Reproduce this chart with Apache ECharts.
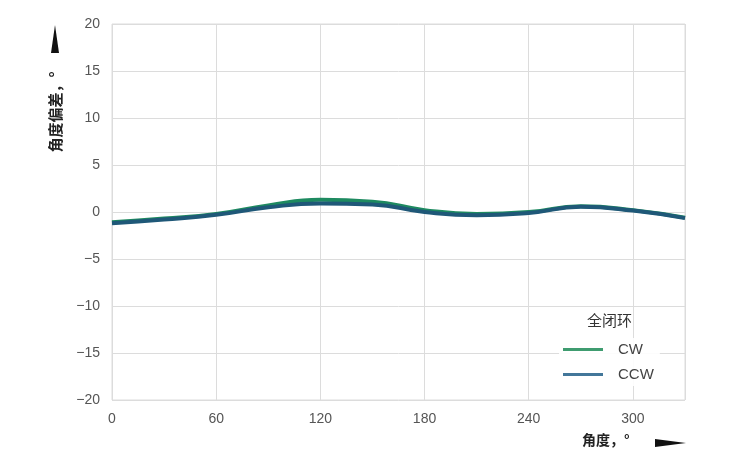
<!DOCTYPE html>
<html><head><meta charset="utf-8">
<script src="https://cdn.jsdelivr.net/npm/echarts@6/dist/echarts.min.js"></script>
<style>html,body{margin:0;padding:0;background:#fff}#c{width:732px;height:474px}</style>
</head><body><div id="c"></div>
<script>
const angles = [0, 30, 60, 90, 120, 150, 180, 210, 240, 270, 300, 330];
const cw  = [-1.1, -0.7, -0.2, 0.7, 1.3, 1.1, 0.2, -0.2, 0.0, 0.6, 0.2, -0.6];
const ccw = [-1.2, -0.8, -0.3, 0.5, 0.9, 0.8, 0.0, -0.35, -0.1, 0.55, 0.15, -0.65];
const seriesNames = ['CW', 'CCW'];
const legendTitle = '全闭环';
const xName = '角度，°';
const yName = '角度偏差，°';

const chart = echarts.init(document.getElementById('c'));
const font = 'Liberation Sans, Arial, sans-serif';
const fmt = v => String(v).replace('-', '\u2212');
chart.setOption({
  animation: false,
  grid: {left: 112, right: 47, top: 24, bottom: 74, show: true, borderColor: '#dcdcdc', borderWidth: 1, containLabel: false},
  xAxis: {type: 'value', min: 0, max: 330, interval: 60,
    axisLine: {show: false}, axisTick: {show: false},
    axisLabel: {color: '#555', fontSize: 14, fontFamily: font, margin: 12, showMaxLabel: false, formatter: fmt},
    splitLine: {lineStyle: {color: '#dcdcdc'}}},
  yAxis: {type: 'value', min: -20, max: 20, interval: 5,
    axisLine: {show: false}, axisTick: {show: false},
    axisLabel: {color: '#555', fontSize: 14, fontFamily: font, margin: 12, formatter: fmt},
    splitLine: {lineStyle: {color: '#dcdcdc'}}},
  legend: {left: 559, top: 338, orient: 'vertical', itemWidth: 40, itemHeight: 3, itemGap: 10,
    icon: 'rect', textStyle: {fontSize: 15, color: '#444', fontFamily: font, padding: [0, 0, 0, 10]},
    backgroundColor: 'rgba(255,255,255,0.9)', padding: [4, 6, 4, 4]},
  series: [
    {name: seriesNames[0], type: 'line', smooth: true, showSymbol: false,
     data: angles.map((a, i) => [a, cw[i]]), lineStyle: {width: 4, color: '#1e8a60'}, itemStyle: {color: '#3f9c70'}},
    {name: seriesNames[1], type: 'line', smooth: true, showSymbol: false,
     data: angles.map((a, i) => [a, ccw[i]]), lineStyle: {width: 4, color: '#1f5878'}, itemStyle: {color: '#43779a'}}
  ],
  graphic: [
    {type: 'text', left: 587, top: 313, style: {text: legendTitle, fontSize: 15, fill: '#333', fontFamily: 'Noto Sans CJK SC'}},
    {type: 'text', left: 582, top: 433, style: {text: xName, fontSize: 14, fontWeight: 'bold', fill: '#222', fontFamily: 'Noto Sans CJK SC'}},
    {type: 'polygon', shape: {points: [[655, 439], [686, 443], [655, 447]]}, style: {fill: '#111'}},
    {type: 'text', x: 55, y: 112, rotation: Math.PI / 2, style: {text: yName, fontSize: 15, fontWeight: 'bold', fill: '#222', fontFamily: 'Noto Sans CJK SC', align: 'center', verticalAlign: 'middle'}},
    {type: 'polygon', shape: {points: [[51, 53], [55, 25], [59, 53]]}, style: {fill: '#111'}}
  ]
});
</script></body></html>
